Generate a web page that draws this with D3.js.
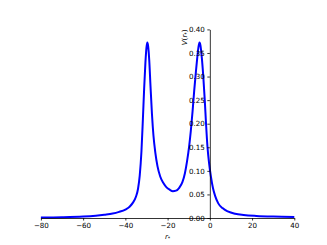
<!DOCTYPE html>
<html>
<head>
<meta charset="utf-8">
<script src="https://cdn.jsdelivr.net/npm/d3@7"></script>
<style>
  body { margin: 0; background: #fff; }
  svg { display: block; }
  text { font-family: "DejaVu Sans", sans-serif; fill: #000; }
</style>
</head>
<body>
<svg id="chart"></svg>
<script>
// values: tortoise coordinate r* and the potential V(r*)
var rStar = [-80,-70,-60,-54,-50,-46,-43,-40,-38,-36.5,-35,-34,-33.2,-32.4,-31.7,-31.1,-30.5,-30,-29.6,-29.2,-28.7,-28.1,-27.4,-26.7,-25.8,-24.8,-23.5,-22,-20.5,-19,-17.5,-16,-14.5,-13,-11.8,-10.8,-9.8,-9,-8.2,-7.4,-6.6,-6,-5.4,-4.9,-4.4,-3.8,-3.1,-2.4,-1.8,-1.1,-0.4,0.5,1.5,2.5,4,6,8.5,12,16,22,30,40];
var potential = [0.001,0.0015,0.003,0.005,0.007,0.0095,0.013,0.018,0.024,0.032,0.045,0.062,0.09,0.14,0.21,0.275,0.33,0.362,0.372,0.364,0.335,0.28,0.22,0.175,0.138,0.11,0.088,0.074,0.065,0.06,0.057,0.058,0.064,0.076,0.095,0.12,0.152,0.185,0.225,0.27,0.31,0.338,0.362,0.372,0.365,0.34,0.30,0.25,0.20,0.15,0.118,0.088,0.063,0.047,0.031,0.021,0.014,0.009,0.0065,0.0045,0.003,0.002];

var xTicks = [-80,-60,-40,-20,0,20,40];
var yTicks = [0,0.05,0.10,0.15,0.20,0.25,0.30,0.35,0.40];

var W = 327, H = 245;
var margin = {top: 29.4, right: 32.7, bottom: 27, left: 40.9};

var svg = d3.select("#chart").attr("width", W).attr("height", H);

var x = d3.scaleLinear().domain([-80, 40]).range([margin.left, W - margin.right]);
var y = d3.scaleLinear().domain([0, 0.4]).range([H - margin.bottom, margin.top]);

var fontPx = 7.1, tickLen = 2.5, pad = 2.5;
var minus = function(v) { return String(v).replace("-", "\u2212"); };

// curve
var line = d3.line()
    .x(function(d, i) { return x(rStar[i]); })
    .y(function(d) { return y(d); })
    .curve(d3.curveMonotoneX);

svg.append("path")
    .datum(potential)
    .attr("d", line)
    .attr("fill", "none")
    .attr("stroke", "#0000ff")
    .attr("stroke-width", 2)
    .attr("stroke-linejoin", "round");

// x axis sits on V = 0
var xAxis = d3.axisBottom(x).tickValues(xTicks).tickSizeInner(tickLen).tickSizeOuter(0)
    .tickPadding(pad).tickFormat(minus);
var gx = svg.append("g").attr("transform", "translate(0," + y(0) + ")").call(xAxis);

// y axis sits on r* = 0
var yAxis = d3.axisLeft(y).tickValues(yTicks).tickSizeInner(tickLen).tickSizeOuter(0)
    .tickPadding(pad).tickFormat(d3.format(".2f"));
var gy = svg.append("g").attr("transform", "translate(" + x(0) + ",0)").call(yAxis);

[gx, gy].forEach(function(g) {
  g.select(".domain").attr("stroke", "#000").attr("stroke-width", 0.8);
  g.selectAll(".tick line").attr("stroke", "#000").attr("stroke-width", 0.8);
  g.selectAll(".tick text")
    .style("font-family", "DejaVu Sans, sans-serif")
    .style("font-size", fontPx + "px")
    .attr("fill", "#000");
});

// axis labels
var xl = svg.append("text")
    .attr("x", (margin.left + W - margin.right) / 2)
    .attr("y", 238.5)
    .attr("text-anchor", "middle")
    .style("font-size", fontPx + "px");
xl.append("tspan").attr("font-style", "italic").text("r");
xl.append("tspan").attr("font-size", "5px").attr("dy", 1.2).text("*");

var yl = svg.append("text")
    .attr("transform", "translate(187," + margin.top + ") rotate(-90)")
    .attr("text-anchor", "end")
    .style("font-size", fontPx + "px");
yl.append("tspan").attr("font-style", "italic").text("V");
yl.append("tspan").text("(");
yl.append("tspan").attr("font-style", "italic").text("r");
yl.append("tspan").attr("font-size", "5px").attr("dy", 1.2).text("*");
yl.append("tspan").attr("dy", -1.2).text(")");
</script>
</body>
</html>
